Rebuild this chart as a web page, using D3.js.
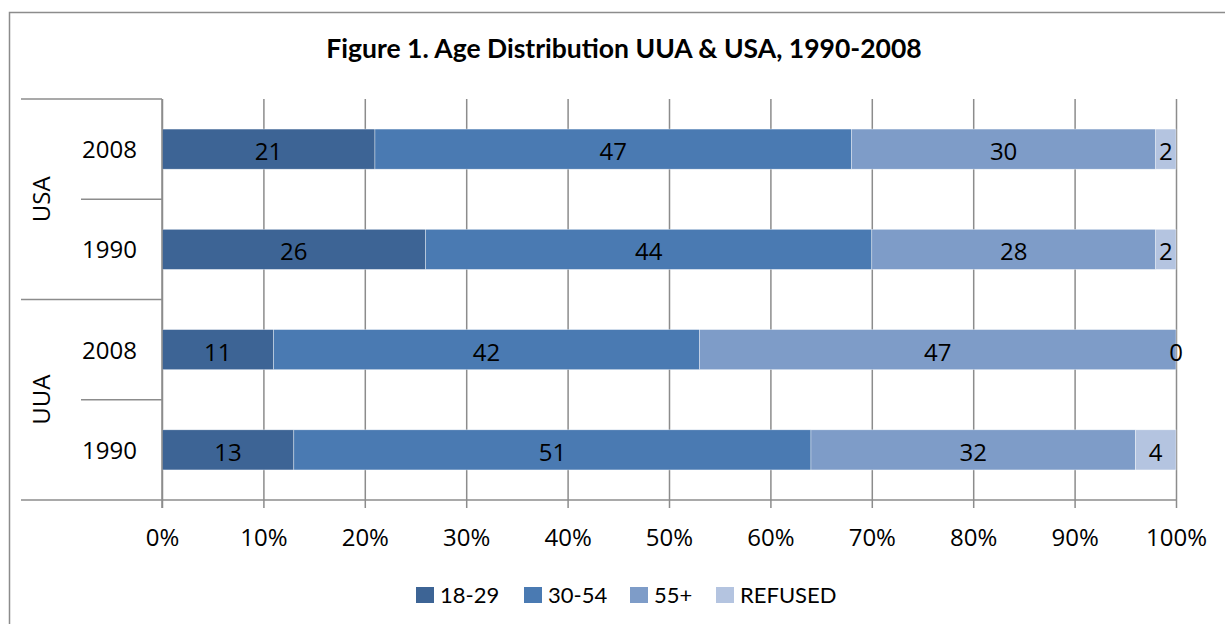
<!DOCTYPE html>
<html>
<head>
<meta charset="utf-8">
<script src="https://cdn.jsdelivr.net/npm/d3@7"></script>
<style>
body { margin:0; background:#fff; }
svg { font-family: "Open Sans", sans-serif; }
</style>
</head>
<body>
<svg id="chart" width="1225" height="624"></svg>
<script>
// data
var groups = ["USA", "USA", "UUA", "UUA"];
var years = ["2008", "1990", "2008", "1990"];
var ageGroups = ["18-29", "30-54", "55+", "REFUSED"];
var v1829 = [21, 26, 11, 13];
var v3054 = [47, 44, 42, 51];
var v55 = [30, 28, 47, 32];
var vRefused = [2, 2, 0, 4];
var tickLabels = ["0%","10%","20%","30%","40%","50%","60%","70%","80%","90%","100%"];
var colors = ["#3d6495", "#4a7ab2", "#7e9cc8", "#b4c4e0"];

var rows = years.map(function(yr, i){
	return { key: groups[i] + " " + yr, group: groups[i], year: yr,
		"18-29": v1829[i], "30-54": v3054[i], "55+": v55[i], "REFUSED": vRefused[i] };
});

var svg = d3.select("#chart");
var plotL = 162, plotR = 1176, plotT = 99, plotB = 500;
var fontSize = 24;

// outer border
svg.append("rect").attr("x", 9.5).attr("y", 12.5).attr("width", 1220).attr("height", 620)
	.attr("fill", "none").attr("stroke", "#8c8c8c").attr("stroke-width", 1.5);

svg.append("text").attr("x", 624).attr("y", 58).attr("text-anchor", "middle")
	.attr("font-family", "Lato, sans-serif")
	.attr("font-size", 26.5).attr("font-weight", "bold").attr("fill", "#000")
	.text("Figure 1. Age Distribution UUA & USA, 1990-2008");

var x = d3.scaleLinear().domain([0, 100]).range([plotL, plotR]);
var y = d3.scaleBand().domain(rows.map(function(d){ return d.key; }))
	.range([plotT, plotB]).paddingInner(0.6).paddingOuter(0.3);

// gridlines + tick labels
var xAxis = d3.axisBottom(x).tickValues(d3.range(0, 101, 10))
	.tickFormat(function(d, i){ return tickLabels[i]; })
	.tickSize(plotB - plotT + 8).tickPadding(10);
var gx = svg.append("g").attr("transform", "translate(0," + plotT + ")").call(xAxis);
gx.select(".domain").remove();
gx.selectAll(".tick line").attr("stroke", "#8c8c8c").attr("stroke-width", 1.5);
gx.selectAll(".tick text").attr("font-size", fontSize).attr("fill", "#000")
	.attr("font-family", "'Open Sans', sans-serif")
	.attr("dy", null).attr("y", 546 - plotT);

// stacked bars
var stack = d3.stack().keys(ageGroups);
var series = stack(rows);
var layers = svg.selectAll("g.layer").data(series).enter().append("g")
	.attr("class", "layer").attr("fill", function(d, i){ return colors[i]; });
layers.selectAll("rect").data(function(d){ return d; }).enter().append("rect")
	.attr("x", function(d){ return x(d[0]); })
	.attr("y", function(d){ return y(d.data.key); })
	.attr("width", function(d){ return x(d[1]) - x(d[0]); })
	.attr("height", y.bandwidth())
	.attr("stroke", "#fff").attr("stroke-width", 0.6).attr("stroke-opacity", 0.6);

// data labels
layers.selectAll("text").data(function(d){ return d; }).enter().append("text")
	.attr("x", function(d){ return x((d[0] + d[1]) / 2); })
	.attr("y", function(d){ return y(d.data.key) + y.bandwidth() / 2 + 11; })
	.attr("text-anchor", "middle").attr("font-size", fontSize).attr("fill", "#000")
	.text(function(d){ return d[1] - d[0]; });

// left axis lines
var axisColor = "#8c8c8c";
svg.append("line").attr("x1", plotL).attr("x2", plotL).attr("y1", plotT).attr("y2", plotB + 8)
	.attr("stroke", axisColor).attr("stroke-width", 1.5);
svg.append("line").attr("x1", 21).attr("x2", plotR).attr("y1", plotB).attr("y2", plotB)
	.attr("stroke", axisColor).attr("stroke-width", 1.5);
[0, 1, 2, 3].forEach(function(i){
	var yy = plotT + i * (plotB - plotT) / 4;
	var isGroup = i % 2 === 0;
	svg.append("line").attr("x1", isGroup ? 21 : 81).attr("x2", plotL).attr("y1", yy).attr("y2", yy)
		.attr("stroke", axisColor).attr("stroke-width", 1.5);
});

// year labels
svg.selectAll("text.year").data(rows).enter().append("text").attr("class", "year")
	.attr("x", 137).attr("y", function(d){ return y(d.key) + y.bandwidth() / 2 + 9; })
	.attr("text-anchor", "end").attr("font-size", fontSize).attr("fill", "#000")
	.text(function(d){ return d.year; });

// group labels
var groupNames = ["USA", "UUA"];
groupNames.forEach(function(g, i){
	var cy = plotT + (i * 2 + 1) * (plotB - plotT) / 4;
	svg.append("text").attr("transform", "translate(50," + cy + ") rotate(-90)")
		.attr("text-anchor", "middle").attr("font-size", fontSize).attr("fill", "#000").text(g);
});

// legend
var legendX = [416, 524, 630, 716];
var legend = svg.selectAll("g.legend").data(ageGroups).enter().append("g")
	.attr("class", "legend").attr("transform", function(d, i){ return "translate(" + legendX[i] + ",587)"; });
legend.append("rect").attr("width", 18).attr("height", 16).attr("fill", function(d, i){ return colors[i]; });
legend.append("text").attr("x", 24).attr("y", 16).attr("font-size", 22).attr("fill", "#000")
	.attr("font-family", "Lato, sans-serif")
	.text(function(d){ return d; });
</script>
</body>
</html>
